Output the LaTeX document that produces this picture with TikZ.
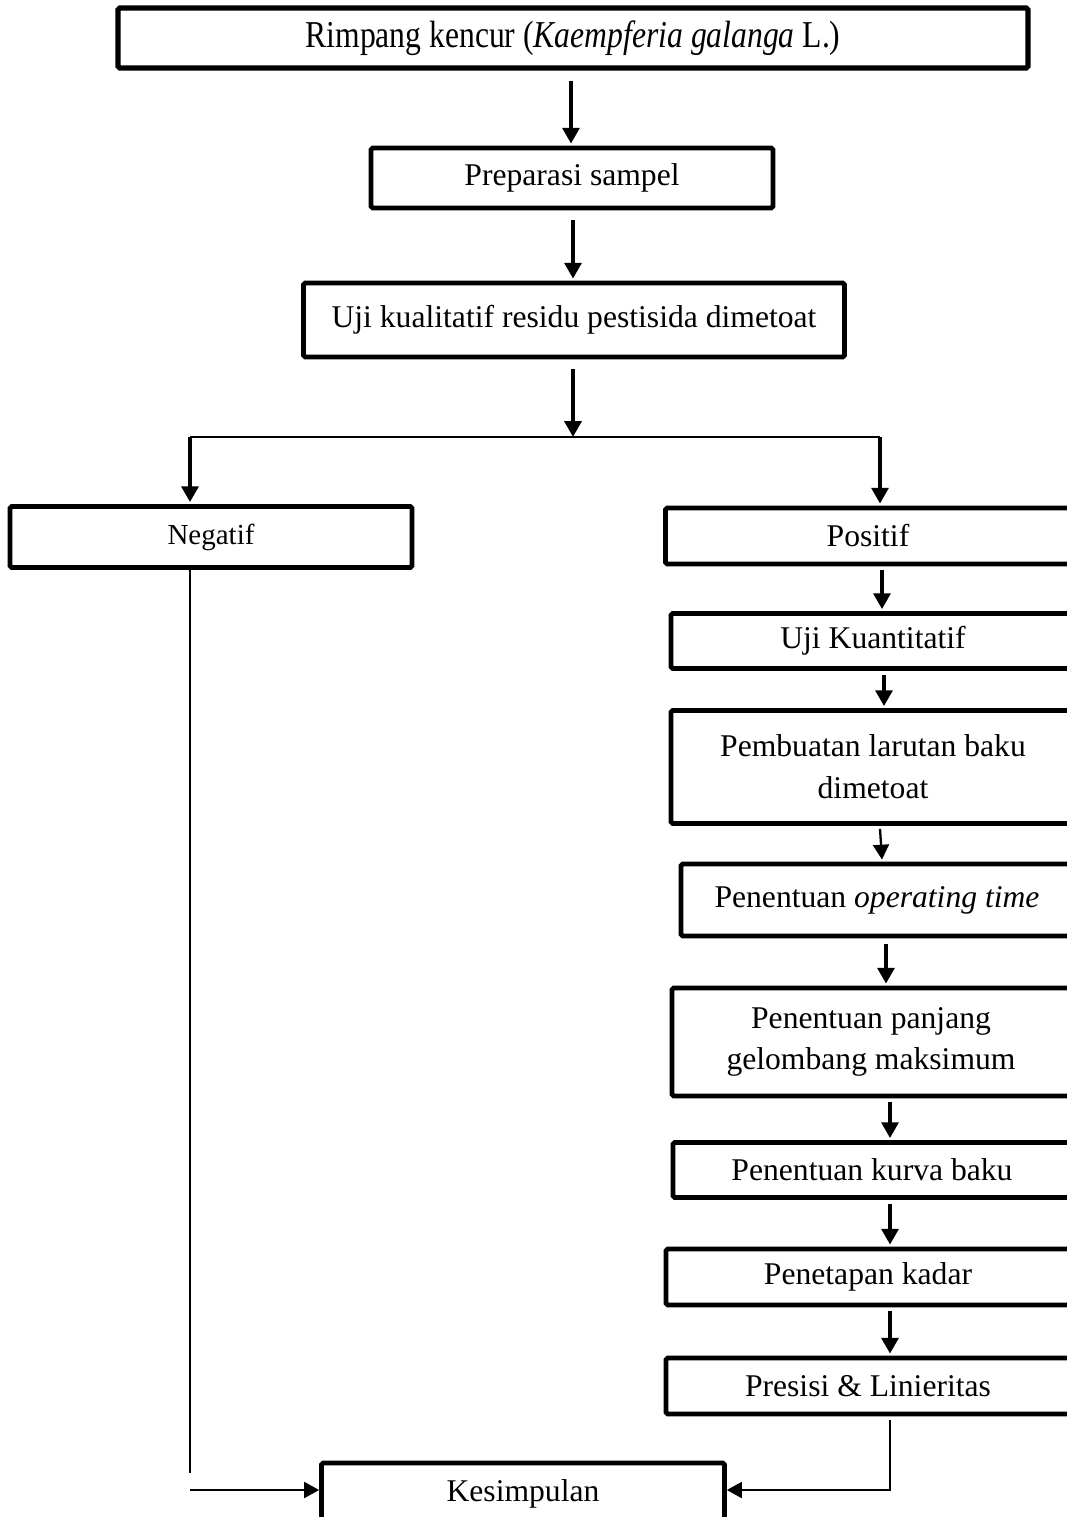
\documentclass[tikz,border=0pt]{standalone}
\usepackage{graphicx}
\usepackage{fontspec}
\setmainfont{Liberation Serif}
\usetikzlibrary{arrows.meta,positioning,calc}

\tikzset{
  box/.style={draw, line width=2.7pt, rounded corners=1pt, inner sep=0pt, align=center, font=\fontsize{18}{23.8}\selectfont},
  bigarrow/.style={line width=2.8pt, -{Triangle[length=9pt,width=9.5pt]}},
  smallarrow/.style={line width=1.3pt, -{Triangle[length=8.5pt,width=9pt]}},
  link/.style={line width=1.3pt}
}

\begin{document}
\begin{tikzpicture}[x=0.02cm, y=-0.02cm]
    \useasboundingbox (0,0) rectangle (1067,1517);

    % Main column
    \node[box, line width=3pt, minimum width=18.2cm, minimum height=1.2cm] (rimpang) at (573,38)
        {\scalebox{1}[1.2]{Rimpang kencur (\textit{Kaempferia galanga} L.)}};
    \node[box, minimum width=8.04cm, minimum height=1.2cm] (prep) at (572,178) {Preparasi sampel};
    \node[box, minimum width=10.82cm, minimum height=1.48cm] (kual) at (574,320) {Uji kualitatif residu pestisida dimetoat};

    % Split
    \coordinate (split) at (573,437);
    \coordinate (splitL) at (190,437);
    \coordinate (splitR) at (880,437);

    \node[box, font=\fontsize{16.5}{20}\selectfont, minimum width=8.04cm, minimum height=1.22cm] (neg) at (211,537) {Negatif};
    \node[box, minimum width=8.1cm, minimum height=1.12cm] (pos) at (868,536) {Positif};

    % Quantitative branch
    \node[box, minimum width=8.08cm, minimum height=1.1cm] (kuan) at (873,641) {Uji Kuantitatif};
    \node[box, minimum width=8.08cm, minimum height=2.26cm] (baku) at (873,767) {Pembuatan larutan baku\\dimetoat};
    \node[box, minimum width=7.84cm, minimum height=1.44cm] (ot) at (877,900) {Penentuan \textit{operating time}};
    \node[box, minimum width=7.96cm, minimum height=2.16cm] (gel) at (871,1042) {Penentuan panjang\\gelombang maksimum};
    \node[box, minimum width=7.96cm, minimum height=1.1cm] (kurva) at (872,1170) {Penentuan kurva baku};
    \node[box, minimum width=8.08cm, minimum height=1.12cm] (kadar) at (868,1277) {Penetapan kadar};
    \node[box, minimum width=8.08cm, minimum height=1.12cm] (presisi) at (868,1386) {Presisi \& Linieritas};

    \node[box, minimum width=8.06cm, minimum height=1.24cm] (kes) at (523,1494) {Kesimpulan};

    % Arrows
    \draw[bigarrow] ($(rimpang.south)+(-2,10)$) -- ($(prep.north)+(-1,-2)$);
    \draw[bigarrow] ($(prep.south)+(1,10)$) -- ($(kual.north)+(-1,-2)$);
    \draw[bigarrow] ($(kual.south)+(-1,10)$) -- (split);
    \draw[link] (splitL) -- (splitR);
    \draw[bigarrow] (splitL) -- ($(splitL |- neg.north)+(0,-2)$);
    \draw[bigarrow] (splitR) -- ($(splitR |- pos.north)+(0,-2)$);

    \draw[bigarrow] ($(pos.south)+(14,4)$) -- ($(kuan.north)+(9,-2)$);
    \draw[bigarrow] ($(kuan.south)+(11,4)$) -- ($(baku.north)+(11,-2)$);
    \draw[smallarrow] ($(baku.south)+(7,3)$) -- ($(ot.north)+(5,-2)$);
    \draw[bigarrow] ($(ot.south)+(9,6)$) -- ($(gel.north)+(15,-2)$);
    \draw[bigarrow] ($(gel.south)+(19,4)$) -- ($(kurva.north)+(18,-2)$);
    \draw[bigarrow] ($(kurva.south)+(18,4)$) -- ($(kadar.north)+(22,-2)$);
    \draw[bigarrow] ($(kadar.south)+(22,4)$) -- ($(presisi.north)+(22,-2)$);

    % To conclusion
    \coordinate (negEnd) at (190,1473);
    \coordinate (kesIn) at (190,1490);
    \draw[link] (splitL |- neg.south) -- (negEnd);
    \draw[smallarrow] (kesIn) -- (kesIn -| kes.west);
    \draw[smallarrow] ($(presisi.south)+(22,4)$) |- ($(kes.east)+(0,-4)$);
\end{tikzpicture}
\end{document}
